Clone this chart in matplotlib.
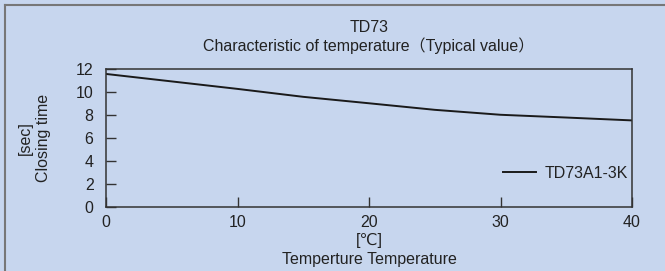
import matplotlib
matplotlib.use("Agg")
import matplotlib.pyplot as plt
from matplotlib.lines import Line2D

temperature = [0, 5, 10, 15, 20, 25, 30, 35, 40]
closing_time = [11.57, 10.92, 10.27, 9.58, 9.02, 8.45, 8.02, 7.78, 7.53]
series_name = "TD73A1-3K"
x_ticks = [0, 10, 20, 30, 40]
y_ticks = [0, 2, 4, 6, 8, 10, 12]

bg = "#C7D6EE"
txt = "#222222"
fs = 11.5
plt.rcParams['font.family'] = ['Liberation Sans', 'DejaVu Sans']

fig = plt.figure(figsize=(6.65, 2.71), dpi=100, facecolor=bg)
ax = fig.add_axes([106/665, 1-207/271, (632-106)/665, (207-69)/271])
ax.set_facecolor(bg)

ax.plot(temperature, closing_time, color="#1a1a1a", lw=1.4, label=series_name)
ax.set_xlim(0, 40)
ax.set_ylim(0, 12)
ax.set_xticks(x_ticks)
ax.set_yticks(y_ticks)
ax.tick_params(direction='in', length=7, width=1, color="#333333",
               labelsize=fs, labelcolor=txt)
ax.tick_params(axis='y', pad=9)
ax.tick_params(axis='x', pad=6)
for s in ax.spines.values():
    s.set_color("#333333")
    s.set_linewidth(1.1)

ax.set_xlabel("[℃]\nTemperture Temperature", fontsize=fs, color=txt, labelpad=2, linespacing=1.3)
ax.set_ylabel("[sec]\nClosing time", fontsize=fs, color=txt, labelpad=18, linespacing=1.2)
ax.set_title("TD73\nCharacteristic of temperature（Typical value）", fontsize=fs, color=txt,
             pad=13, linespacing=1.15,
             fontfamily=['Liberation Sans', 'Noto Sans CJK JP'])

leg = ax.legend(loc='center left', bbox_to_anchor=((503-106)/526, (207-173.3)/138),
                frameon=False, fontsize=fs, handlelength=2.06, handletextpad=0.56,
                borderpad=0, borderaxespad=0, labelcolor=txt)

# figure border (top and left)
fig.add_artist(Line2D([5/665, 1], [1-5/271, 1-5/271], color="#777777", lw=1.5))
fig.add_artist(Line2D([5/665, 5/665], [0, 1-5/271], color="#777777", lw=1.5))

fig.savefig("out.png", dpi=100, facecolor=bg)
